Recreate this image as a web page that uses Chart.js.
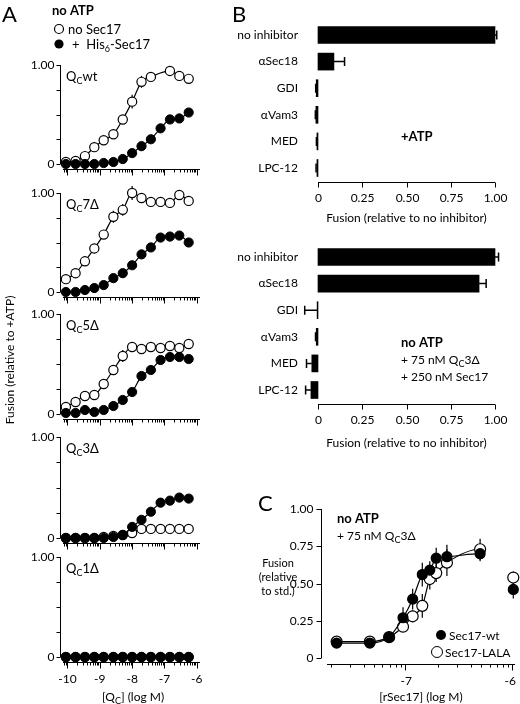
<!DOCTYPE html>
<html><head><meta charset="utf-8">
<script src="https://cdn.jsdelivr.net/npm/chart.js@4"></script>
<style>body{margin:0;background:#fff;width:520px;height:704px;position:relative;overflow:hidden}canvas{position:absolute;left:0;top:0}</style>
</head><body>
<script>
// ---------- DATA ----------
const qcX = [-10.05,-9.75,-9.46,-9.17,-8.88,-8.58,-8.29,-8.0,-7.71,-7.42,-7.12,-6.83,-6.54,-6.25];
const panelNames = ['wt','7Δ','5Δ','3Δ','1Δ'];
const openVals = [
  [0.02,0.03,0.08,0.17,0.24,0.30,0.45,0.63,0.83,0.88,null,0.94,0.89,0.86],
  [0.13,0.19,0.31,0.44,0.58,0.76,0.83,1.00,0.95,0.91,0.91,0.90,0.98,0.92],
  [0.07,0.12,0.18,0.19,0.30,0.44,0.58,0.67,0.65,0.67,0.66,0.68,0.66,0.70],
  [0,0,0,0,0.01,0.02,0.03,0.05,0.09,0.09,0.09,0.09,0.09,0.09],
  [0,0,0,0,0,0,0,0,0,0,0,0,0,0]
];
const openErr = [
  [0,0,0,0,0,0,0.03,0.07,0.06,0,0,0.05,0.04,0.03],
  [0,0,0,0,0,0.06,0.06,0.07,0.04,0.04,0.03,0.04,0,0],
  [0,0,0,0,0,0,0.06,0.05,0,0,0,0,0,0],
  [0,0,0,0,0,0,0,0,0,0,0,0,0,0],
  [0,0,0,0,0,0,0,0,0,0,0,0,0,0]
];
const filledVals = [
  [0,0,0,0,0.01,0.02,0.05,0.11,0.18,0.25,0.36,0.45,0.46,0.52],
  [0,0,0.02,0.04,0.07,0.14,0.19,0.27,0.38,0.45,0.55,0.56,0.57,0.50],
  [0.01,0.01,0.04,0.02,0.04,0.08,0.14,0.22,0.38,0.44,0.54,0.57,0.57,0.55],
  [0,0,0,0,0,0.01,0.03,0.11,0.18,0.26,0.35,0.37,0.40,0.39],
  [0,0,0,0,0,0,0,0,0,0,0,0,0,0]
];
const aXTicks = [-10,-9,-8,-7,-6];
const aYTicks = [0,0.25,0.5,0.75,1];

const inhibitors = ['no inhibitor','αSec18','GDI','αVam3','MED','LPC-12'];
const atpVals = [1.00,0.09,-0.01,-0.012,-0.006,-0.006];
const atpErr  = [0.01,0.06,0.003,0.003,0.003,0.005];
const noAtpVals = [1.00,0.91,-0.005,-0.01,-0.035,-0.04];
const noAtpErr  = [0.02,0.04,0.07,0.004,0.03,0.03];
const bTicks = [0,0.25,0.5,0.75,1];
const bTickLabels = ['0','0.25','0.50','0.75','1.00'];

const cX = [-7.65,-7.34,-7.16,-7.03,-6.94,-6.85,-6.78,-6.72,-6.62,-6.31,-6.0];
const wtVals = [0.10,0.10,0.14,0.27,0.395,0.56,0.59,0.67,0.68,0.70,0.46];
const wtErr  = [0,0,0,0.07,0.07,0.08,0.06,0.07,0.08,0.05,0.06];
const lalaVals = [0.11,0.11,0.14,0.21,0.28,0.35,0.53,0.57,0.64,0.73,0.54];
const lalaErr  = [0,0,0.02,0,0.04,0.08,0.07,0.06,0.09,0.07,0.04];
const cYTicks = [0,0.25,0.5,0.75,1];
const cYLabels = ['0','0.25','0.50','0.75','1.00'];
const cXTicks = [-7,-6];

// ---------- HELPERS ----------
const F = 'Lato, "Open Sans", sans-serif';
function canvasFull(){const c=document.createElement('canvas');c.width=520;c.height=704;c.style.width='520px';c.style.height='704px';document.body.appendChild(c);return c;}
function pad(r){return {left:r.l,top:r.t,right:520-r.r,bottom:704-r.b};}
function richText(ctx,parts,x,y,size,align){
  let w=0;
  parts.forEach(p=>{ctx.font=(p[1]?Math.round(size*0.72):size)+'px '+F;w+=ctx.measureText(p[0]).width;});
  let cx = align==='right'?x-w:align==='center'?x-w/2:x;
  ctx.textAlign='left';ctx.textBaseline='alphabetic';
  parts.forEach(p=>{ctx.font=(p[1]?Math.round(size*0.72):size)+'px '+F;ctx.fillText(p[0],cx,y+(p[1]?3:0));cx+=ctx.measureText(p[0]).width;});
}
function logMinor(min,max){const t=[];for(let n=Math.floor(min)-1;n<=Math.ceil(max);n++){for(let k=2;k<=9;k++){const v=n+Math.log10(k);if(v>=min&&v<=max)t.push(v);}}return t;}
const baseOpts = r => ({responsive:false,animation:false,devicePixelRatio:1,layout:{padding:pad(r)},
  plugins:{legend:{display:false},tooltip:{enabled:false}}});

// ---------- PANEL A ----------
const aRects = [[65,164],[193,292],[314,414],[437,538],[557,657]];
aRects.forEach((yr,pi)=>{
  const r={l:62,r:200,t:yr[0],b:yr[1]};
  const last = pi===4;
  const mkPts = arr => qcX.map((x,i)=>({x,y:arr[i]}));
  new Chart(canvasFull(),{
    type:'line',
    data:{datasets:[
      {data:mkPts(filledVals[pi]),err:new Array(14).fill(0),borderColor:'#000',borderWidth:1.2,pointBackgroundColor:'#000',pointBorderColor:'#000',pointRadius:4.6,pointBorderWidth:1,tension:0.4,cubicInterpolationMode:'monotone',clip:false,showLine:pi!==4},
      {data:mkPts(openVals[pi]),err:openErr[pi],borderColor:'#000',borderWidth:1.2,pointBackgroundColor:'#fff',pointBorderColor:'#000',pointRadius:4.6,pointBorderWidth:1.2,tension:0.4,cubicInterpolationMode:'monotone',clip:false,spanGaps:true,showLine:pi!==4}
    ]},
    options:Object.assign(baseOpts(r),{scales:{
      x:{type:'linear',min:-10.17,max:-5.9,display:false},
      y:{min:0,max:1,display:false}}}),
    plugins:[{id:'decoA',
      beforeDatasetsDraw(ch){
        const ctx=ch.ctx,xs=ch.scales.x,ys=ch.scales.y;
        ctx.save();ctx.strokeStyle='#000';ctx.lineWidth=1.2;
        ch.data.datasets.forEach(ds=>ds.data.forEach((p,i)=>{const e=ds.err[i];if(p.y==null||!e)return;
          const px=xs.getPixelForValue(p.x);ctx.beginPath();ctx.moveTo(px,ys.getPixelForValue(p.y-e));ctx.lineTo(px,ys.getPixelForValue(p.y+e));ctx.stroke();}));
        ctx.restore();
      },
      afterDraw(ch){
        const ctx=ch.ctx,xs=ch.scales.x,ys=ch.scales.y;
        ctx.save();ctx.strokeStyle='#000';ctx.fillStyle='#000';ctx.lineWidth=1;
        const ax=60.5, ay=Math.round(ys.getPixelForValue(0))+5.5;
        ctx.beginPath();ctx.moveTo(ax,ys.getPixelForValue(0));ctx.lineTo(ax,ys.getPixelForValue(1));ctx.stroke();
        aYTicks.forEach(v=>{const py=Math.round(ys.getPixelForValue(v))+0.5;ctx.beginPath();ctx.moveTo(ax-4,py);ctx.lineTo(ax,py);ctx.stroke();});
        ctx.font='12px '+F;ctx.textAlign='right';ctx.textBaseline='middle';
        ctx.fillText('1.00',ax-6,ys.getPixelForValue(1));ctx.fillText('0',ax-6,ys.getPixelForValue(0));
        ctx.beginPath();ctx.moveTo(63,ay);ctx.lineTo(200,ay);ctx.stroke();
        aXTicks.forEach(v=>{const px=Math.round(xs.getPixelForValue(v))+0.5;ctx.beginPath();ctx.moveTo(px,ay);ctx.lineTo(px,ay+6);ctx.stroke();});
        logMinor(-10.1,-5.95).forEach(v=>{const px=Math.round(xs.getPixelForValue(v))+0.5;ctx.beginPath();ctx.moveTo(px,ay);ctx.lineTo(px,ay+3);ctx.stroke();});
        richText(ctx,[['Q',0],['C',1],[panelNames[pi],0]],66,ys.getPixelForValue(1)+16,13,'left');
        if(last){
          ctx.font='12px '+F;ctx.textAlign='center';ctx.textBaseline='alphabetic';
          aXTicks.forEach(v=>ctx.fillText(String(v),xs.getPixelForValue(v),ay+20));
          richText(ctx,[['[Q',0],['C',1],['] (log M)',0]],133,ay+38,12,'center');
        }
        ctx.restore();
      }}]
  });
});

// ---------- PANEL B ----------
function barPanel(r,vals,errs,axisY){
  new Chart(canvasFull(),{
    type:'bar',
    data:{labels:inhibitors,datasets:[{data:vals,err:errs,backgroundColor:'#000',barThickness:17,clip:false}]},
    options:Object.assign(baseOpts(r),{indexAxis:'y',scales:{
      x:{type:'linear',min:0,max:1,display:false},
      y:{type:'category',display:false}}}),
    plugins:[{id:'decoB',afterDraw(ch){
      const ctx=ch.ctx,xs=ch.scales.x,ys=ch.scales.y;
      ctx.save();ctx.strokeStyle='#000';ctx.fillStyle='#000';ctx.lineWidth=1.5;
      vals.forEach((v,i)=>{const e=errs[i];const py=ys.getPixelForValue(i);
        const x0=xs.getPixelForValue(v),x1=xs.getPixelForValue(v+(v<0?-e:e));
        ctx.beginPath();ctx.moveTo(x0,py);ctx.lineTo(x1,py);ctx.moveTo(x1,py-4.5);ctx.lineTo(x1,py+4.5);ctx.stroke();});
      ctx.lineWidth=1;
      const ay=axisY+0.5;
      ctx.beginPath();ctx.moveTo(xs.getPixelForValue(0),ay);ctx.lineTo(xs.getPixelForValue(1),ay);ctx.stroke();
      ctx.font='12px '+F;ctx.textAlign='center';ctx.textBaseline='alphabetic';
      bTicks.forEach((v,i)=>{const px=Math.round(xs.getPixelForValue(v))+0.5;ctx.beginPath();ctx.moveTo(px,ay);ctx.lineTo(px,ay+5);ctx.stroke();
        ctx.fillText(bTickLabels[i],px,ay+19);});
      ctx.fillText('Fusion (relative to no inhibitor)',(xs.getPixelForValue(0)+xs.getPixelForValue(1))/2,ay+ (axisY>300?42:39));
      ctx.textAlign='right';ctx.textBaseline='middle';
      inhibitors.forEach((l,i)=>ctx.fillText(l,298,ys.getPixelForValue(i)));
      ctx.restore();
    }}]
  });
}
barPanel({l:318,r:495,t:21.7,b:181.3},atpVals,atpErr,182);
barPanel({l:318,r:495,t:243.7,b:403.3},noAtpVals,noAtpErr,404);

// ---------- PANEL C ----------
(function(){
  const r={l:327,r:515,t:509,b:658};
  const seg={borderColor:c=>c.p1DataIndex===cX.length-1?'rgba(0,0,0,0)':'#000'};
  const mk = a=>cX.map((x,i)=>({x,y:a[i]}));
  new Chart(canvasFull(),{
    type:'line',
    data:{datasets:[
      {data:mk(wtVals),err:wtErr,borderColor:'#000',borderWidth:1.2,pointBackgroundColor:'#000',pointBorderColor:'#000',pointRadius:5,tension:0.35,cubicInterpolationMode:'monotone',segment:seg,clip:false},
      {data:mk(lalaVals),err:lalaErr,borderColor:'#000',borderWidth:1.2,pointBackgroundColor:'#fff',pointBorderColor:'#000',pointRadius:5.5,pointBorderWidth:1.2,tension:0.35,cubicInterpolationMode:'monotone',segment:seg,clip:false}
    ]},
    options:Object.assign(baseOpts(r),{scales:{
      x:{type:'linear',min:-7.74,max:-6,display:false},
      y:{min:0,max:1,display:false}}}),
    plugins:[{id:'decoC',
      beforeDatasetsDraw(ch){
        const ctx=ch.ctx,xs=ch.scales.x,ys=ch.scales.y;
        ctx.save();ctx.strokeStyle='#000';ctx.lineWidth=1.2;
        ch.data.datasets.forEach(ds=>ds.data.forEach((p,i)=>{const e=ds.err[i];if(!e)return;
          const px=xs.getPixelForValue(p.x);ctx.beginPath();ctx.moveTo(px,ys.getPixelForValue(p.y-e));ctx.lineTo(px,ys.getPixelForValue(p.y+e));ctx.stroke();}));
        ctx.restore();
      },
      afterDraw(ch){
        const ctx=ch.ctx,xs=ch.scales.x,ys=ch.scales.y;
        ctx.save();ctx.strokeStyle='#000';ctx.fillStyle='#000';ctx.lineWidth=1;
        const ax=321.5, ay=664.5;
        ctx.beginPath();ctx.moveTo(ax,ys.getPixelForValue(0));ctx.lineTo(ax,ys.getPixelForValue(1));ctx.stroke();
        ctx.font='12px '+F;ctx.textAlign='right';ctx.textBaseline='middle';
        cYTicks.forEach((v,i)=>{const py=Math.round(ys.getPixelForValue(v))+0.5;ctx.beginPath();ctx.moveTo(ax-5,py);ctx.lineTo(ax,py);ctx.stroke();ctx.fillText(cYLabels[i],ax-8,py);});
        ctx.beginPath();ctx.moveTo(327,ay);ctx.lineTo(515,ay);ctx.stroke();
        cXTicks.forEach(v=>{const px=Math.round(xs.getPixelForValue(v))-0.5;ctx.beginPath();ctx.moveTo(px,ay);ctx.lineTo(px,ay+6);ctx.stroke();});
        logMinor(-7.74,-6).forEach(v=>{const px=Math.round(xs.getPixelForValue(v))+0.5;ctx.beginPath();ctx.moveTo(px,ay);ctx.lineTo(px,ay+3);ctx.stroke();});
        ctx.textAlign='center';ctx.textBaseline='alphabetic';
        cXTicks.forEach(v=>ctx.fillText(String(v),xs.getPixelForValue(v)-(v===-6?3:0),ay+20));
        ctx.fillText('[rSec17] (log M)',421,ay+36);
        ctx.font='11px '+F;
        ['Fusion','(relative','to std.)'].forEach((t,i)=>ctx.fillText(t,278,567+i*14));
        ctx.textAlign='left';
        ctx.font='bold 13px '+F;ctx.fillText('no ATP',337,523);
        richText(ctx,[['+ 75 nM Q',0],['C',1],['3Δ',0]],337,540,12,'left');
        ctx.beginPath();ctx.arc(441,635,5,0,Math.PI*2);ctx.fill();
        ctx.beginPath();ctx.arc(437,652,5.5,0,Math.PI*2);ctx.fillStyle='#fff';ctx.fill();ctx.stroke();ctx.fillStyle='#000';
        ctx.font='12px '+F;ctx.textBaseline='middle';
        ctx.fillText('Sec17-wt',449,636);ctx.fillText('Sec17-LALA',445,653);
        ctx.restore();
      }}]
  });
})();

// ---------- GLOBAL TEXT ----------
(function(){
  const c=canvasFull(),ctx=c.getContext('2d');
  ctx.fillStyle='#000';ctx.strokeStyle='#000';
  ctx.font='22px '+F;ctx.textBaseline='alphabetic';ctx.textAlign='left';
  ctx.fillText('A',2,22);ctx.fillText('B',232,22);ctx.fillText('C',258,511);
  ctx.font='bold 13px '+F;ctx.fillText('no ATP',52,15);
  ctx.lineWidth=1.2;
  ctx.beginPath();ctx.arc(59,29,4.5,0,Math.PI*2);ctx.stroke();
  ctx.beginPath();ctx.arc(59,44,4.6,0,Math.PI*2);ctx.fill();
  ctx.font='13px '+F;ctx.fillText('no Sec17',68,34);
  richText(ctx,[['+  His',0],['6',1],['-Sec17',0]],72,49,13,'left');
  ctx.save();ctx.translate(14,360);ctx.rotate(-Math.PI/2);ctx.textAlign='center';ctx.font='12px '+F;
  ctx.fillText('Fusion (relative to +ATP)',0,0);ctx.restore();
  ctx.font='bold 13px '+F;ctx.fillText('+ATP',401,141);
  ctx.fillText('no ATP',401,347);
  richText(ctx,[['+ 75 nM Q',0],['C',1],['3Δ',0]],401,364,12,'left');
  ctx.font='12px '+F;ctx.fillText('+ 250 nM Sec17',401,381);
})();
</script>
</body></html>
